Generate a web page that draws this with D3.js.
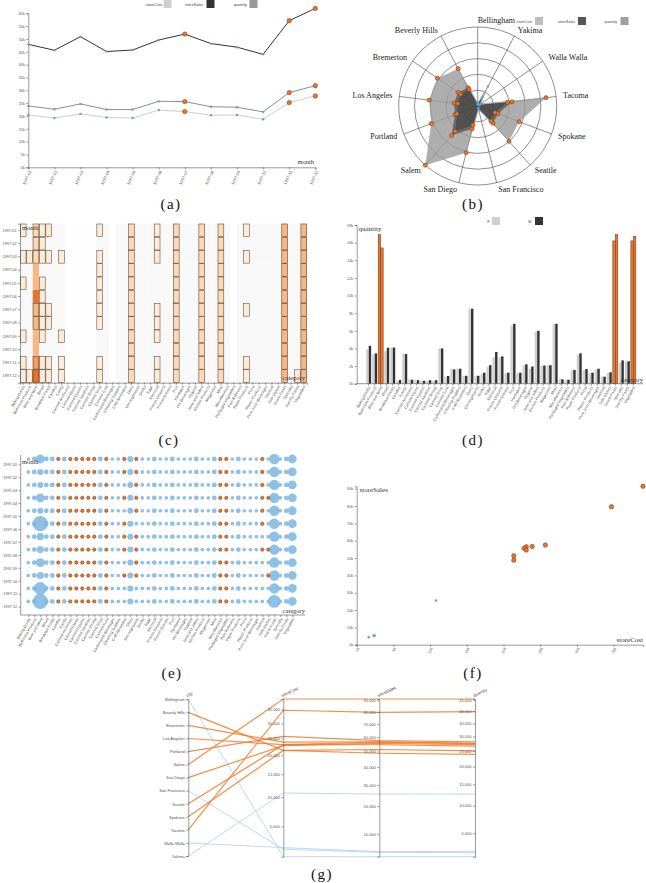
<!DOCTYPE html>
<html><head><meta charset="utf-8">
<script src="https://cdn.jsdelivr.net/npm/d3@7"></script>
<style>
body{margin:0;background:#fff;}
svg{display:block;}
</style></head><body>
<svg id="c" width="646" height="883"></svg>
<script>
// ---------------- DATA ----------------
const months = ["1997-01","1997-02","1997-03","1997-04","1997-05","1997-06","1997-07","1997-08","1997-09","1997-10","1997-11","1997-12"];
const monthStoreCost  = [20400,19200,20800,19400,19200,22300,21700,20300,20400,18700,25200,27800];
const monthStoreSales = [47900,45600,50900,45100,45700,49600,51900,48200,46800,44000,57100,61900];
const monthQuantity   = [23900,22600,24700,22500,22500,25700,25600,23600,23400,21600,29100,31800];
const highlightMonths = ["1997-07","1997-11","1997-12"];
const measures = ["storeCost","storeSales","quantity"];

const cities = ["Bellingham","Beverly Hills","Bremerton","Los Angeles","Portland","Salem","San Diego","San Francisco","Seattle","Spokane","Tacoma","Walla Walla","Yakima"];
const cityStoreCost  = [1640,21400,23900,23100,25700,39000,22800,2300,23100,21400,34700,2450,10800];
const cityStoreSales = [4300,48800,56700,56500,57500,91400,55600,5200,54600,51300,79600,5350,25500];
const cityQuantity   = [2100,23800,27600,27500,28100,45400,27100,2500,26600,25000,39900,2650,12600];
const highlightCities = ["Beverly Hills","Bremerton","Los Angeles","Portland","Salem","San Diego","Seattle","Spokane","Tacoma"];

const categories = ["Baking Goods","Bathroom Products","Beer and Wine","Bread","Breakfast Foods","Candles","Candy","Canned Anchovies","Canned Clams","Canned Oysters","Canned Sardines","Canned Shrimp","Canned Soup","Canned Tuna","Carbonated Beverages","Cleaning Supplies","Cold Remedies","Dairy","Decongestants","Drinks","Eggs","Electrical","Frozen Desserts","Frozen Entrees","Fruit","Hardware","Hot Beverages","Hygiene","Jams and Jellies","Kitchen Products","Magazines","Meat","Miscellaneous","Packaged Vegetables","Pain Relievers","Paper Products","Pizza","Plastic Products","Pure Juice Beverages","Seafood","Side Dishes","Snack Foods","Specialty","Starchy Foods","Vegetables"];
const genders = ["F","M"];
const quantityF = [3900,3360,16900,3700,4100,300,3400,500,400,300,350,350,4000,800,1700,1700,900,8500,900,1100,1900,3000,3000,1200,6600,1200,2100,1700,5900,2050,2100,6800,500,400,1600,3300,1550,1200,1600,800,1200,16200,2400,2500,16200];
const quantityM = [4300,3440,15400,4080,4100,420,3360,450,400,330,400,400,4000,870,1620,1700,900,8500,900,1250,2100,3600,3100,1250,6800,1250,2200,1950,6000,2050,2100,6800,500,450,1550,3450,1660,1250,1700,800,1300,16900,2650,2550,16700];
const highlightCategories = ["Beer and Wine","Snack Foods","Vegetables"];

// heatmap: one string per category, one char per month. '0' none, '1'-'5' level (outlined), 'a'-'e' level (no outline)
const heatCells = [
"101010001011","001000000001","222cce33cc45","111011111011","101000110011",
"000000000000","001000001011","000000000000","000000000000","000000000000",
"000000000000","000000000000","101111110011","000000000000","000000000000",
"000000000000","000000000000","222222222222","000000000000","000000000000",
"000000000000","111000111011","000000000000","000000000000","222222222222",
"000000000000","000000000000","000000000000","222222222222","000000000000",
"000000000000","222222222222","000000000000","000000000000","000000000000",
"101000100011","000000000000","000000000000","000000000000","000000000000",
"000000000000","333333333333","000000000000","000000000001","333333333333"];
const heatShade = [1,1,0,1,1,1,1,0,0,0,0,0,1,1,0,1,1,0,1,1,1,1,1,1,0,1,1,1,0,1,1,0,1,0,1,1,1,1,1,1,1,0,1,1,0];

// bubble matrix: one string per month, one size digit per category
const bubbleSize = [
"23633 23222 22322 22422 23223 22232 23222 32222 27236",
"23433 23222 22322 22422 23223 22232 23222 32222 27236",
"23433 23222 22322 22422 23223 22232 23222 32222 27236",
"23633 23222 22322 22422 23223 22232 23222 32222 27236",
"23433 23222 22322 22422 23223 22232 23222 32222 27236",
"23933 23222 22322 22422 23223 22232 23222 32222 27236",
"23533 23222 22322 22422 23223 22232 23222 32222 27236",
"23533 23222 22322 22422 23223 22232 23222 32222 27236",
"23633 23222 22322 22422 23223 22232 23222 32222 27236",
"23533 23222 22322 22422 23223 22232 23222 32222 27236",
"23833 23222 22322 22422 23223 22232 23222 32222 27236",
"23933 23222 22322 22422 23223 22232 23222 32222 28236"];
// highlighted (orange) category numbers (1-based) per month
const bubbleOrange = [
[6,8,9,10,11,12,14,17,19,33,34,40],
[6,8,9,10,11,12,14,17,19,33,34,40],
[6,8,9,10,11,12,14,19,33,34,40],
[6,8,9,10,11,12,14,17,19,33,34,40,41],
[6,8,9,10,11,12,14,19,33,34,40],
[6,8,9,10,11,12,14,17,33,34,40],
[6,8,9,10,11,12,14,17,19,33,34],
[6,8,9,10,11,12,14,17,19,33,34,40,41],
[6,8,9,10,11,12,14,19,33,34],
[6,8,9,10,11,12,14,17,19,33,34,41],
[6,8,9,10,11,12,14,33,34],
[6,8,9,10,11,12,14,33,34]];

const captions = ["(a)","(b)","(c)","(d)","(e)","(f)","(g)"];

// ---------------- STYLE ----------------
const SANS = '"Liberation Sans", Arial, sans-serif';
const SERIF = '"Liberation Serif", "Times New Roman", serif';
const ORANGE = "#e8762d", ORANGE_STROKE = "#6b3210", BLUE = "#5ea4d6", BUBBLE_BLUE = "#7cb6e0";
const fmtK = d => (d/1000) + "k";
const svg = d3.select("#c");

function styleAxis(g, fs){
  g.selectAll("text").attr("font-size", fs).attr("font-family", SANS).attr("fill", "#555");
  g.selectAll("line,path").attr("stroke", "#555").attr("stroke-width", 0.6);
}
function rot(g, a){
  g.selectAll(".tick text").attr("transform", `rotate(${a})`).attr("text-anchor","end")
   .attr("dx","-0.6em").attr("dy","0.15em");
}
function label(x, y, t, fs, anchor, fam){
  svg.append("text").attr("x",x).attr("y",y).attr("font-size",fs).attr("font-family",fam||SERIF)
    .attr("fill","#333").attr("text-anchor",anchor||"start").text(t);
}

// ---------------- (a) line chart ----------------
{
  const g = svg.append("g");
  const x = d3.scalePoint(months, [28.3, 315.3]);
  const y = d3.scaleLinear([0, 60000], [167.3, 13.3]);
  g.append("g").attr("transform","translate(28.3,0)")
    .call(d3.axisLeft(y).ticks(12).tickFormat(fmtK).tickSize(2).tickPadding(1.5)).call(styleAxis, 3.8);
  g.append("g").attr("transform","translate(0,167.3)")
    .call(d3.axisBottom(x).tickSize(2).tickPadding(1.5)).call(styleAxis, 4.2).call(rot, -65);
  const series = [
    {name:"storeCost", vals: monthStoreCost, color:"#cfcfcf"},
    {name:"quantity", vals: monthQuantity, color:"#8e8e8e"},
    {name:"storeSales", vals: monthStoreSales, color:"#333"}];
  const line = d3.line().x((d,i)=>x(months[i])).y(d=>y(d));
  series.forEach(s=>{
    g.append("path").attr("d", line(s.vals)).attr("fill","none").attr("stroke",s.color).attr("stroke-width",1);
    g.selectAll(null).data(s.vals).enter().append("circle")
      .attr("cx",(d,i)=>x(months[i])).attr("cy",d=>y(d))
      .attr("r",(d,i)=>highlightMonths.includes(months[i])?2.2:1.2)
      .attr("fill",(d,i)=>highlightMonths.includes(months[i])?ORANGE:BLUE)
      .attr("stroke",(d,i)=>highlightMonths.includes(months[i])?ORANGE_STROKE:"none")
      .attr("stroke-width",0.5);
  });
  label(314, 164, "month", 6.5, "end");
  const lg = [{t:"storeCost",c:"#d0d0d0",tx:162,sx:163.5},{t:"storeSales",c:"#333",tx:203,sx:206.5},{t:"quantity",c:"#9a9a9a",tx:247,sx:249.5}];
  lg.forEach(l=>{
    svg.append("text").attr("x",l.tx).attr("y",6).attr("font-size",3.8).attr("font-family",SANS).attr("fill","#444").attr("text-anchor","end").text(l.t);
    svg.append("rect").attr("x",l.sx).attr("y",0).attr("width",8).attr("height",8).attr("fill",l.c);
  });
}

// ---------------- (b) radar ----------------
{
  const cx = 477.7, cy = 106, R = 79;
  const g = svg.append("g").attr("transform",`translate(${cx},${cy})`);
  const r = d3.scaleLinear([0, d3.max(cityStoreSales)], [0, R]);
  const n = cities.length;
  const ang = i => -i * 2 * Math.PI / n;
  [1,2,3,4,5].forEach(k => g.append("circle").attr("r", R*k/5).attr("fill","none").attr("stroke","#444").attr("stroke-width",0.6));
  cities.forEach((c,i)=>{
    const a = ang(i);
    g.append("line").attr("x1",0).attr("y1",0).attr("x2",R*Math.sin(a)).attr("y2",-R*Math.cos(a))
      .attr("stroke","#444").attr("stroke-width",0.6);
    const lx = 86*Math.sin(a), ly = -86*Math.cos(a);
    g.append("text").attr("x",lx).attr("y",ly).attr("dy","0.35em")
      .attr("text-anchor", lx < -1 ? "end" : "start")
      .attr("font-size",8).attr("font-family",SERIF).attr("fill","#222").text(c);
  });
  const radial = d3.lineRadial().angle((d,i)=>ang(i)).radius(d=>r(d)).curve(d3.curveLinearClosed);
  const rs = [
    {vals: cityStoreSales, fill:"#9a9a9a", op:0.8},
    {vals: cityQuantity, fill:"#333", op:0.55},
    {vals: cityStoreCost, fill:"#222", op:0.35}];
  rs.forEach(s => g.append("path").attr("d", radial(s.vals)).attr("fill", s.fill).attr("fill-opacity", s.op).attr("stroke","none"));
  rs.forEach(s => {
    g.selectAll(null).data(s.vals).enter().append("circle")
      .attr("cx",(d,i)=>r(d)*Math.sin(ang(i))).attr("cy",(d,i)=>-r(d)*Math.cos(ang(i)))
      .attr("r",(d,i)=>highlightCities.includes(cities[i])?2.1:1.2)
      .attr("fill",(d,i)=>highlightCities.includes(cities[i])?ORANGE:BLUE)
      .attr("stroke",(d,i)=>highlightCities.includes(cities[i])?ORANGE_STROKE:"none").attr("stroke-width",0.5);
  });
  const lg = [{t:"storeCost",c:"#bdbdbd",tx:532,sx:535},{t:"storeSales",c:"#555",tx:575,sx:578},{t:"quantity",c:"#a0a0a0",tx:617,sx:620.5}];
  lg.forEach(l=>{
    svg.append("text").attr("x",l.tx).attr("y",22.5).attr("font-size",3.6).attr("font-family",SANS).attr("fill","#444").attr("text-anchor","end").text(l.t);
    svg.append("rect").attr("x",l.sx).attr("y",17).attr("width",8).attr("height",8).attr("fill",l.c);
  });
}

// ---------------- (c) heatmap ----------------
{
  const g = svg.append("g");
  const x = d3.scaleBand(categories, [20, 307]);
  const y = d3.scaleBand(months, [223.7, 382.7]);
  const levelColor = d3.scaleLinear([1,2,3,4,5], ["#fdebd9","#fbd8b6","#f6b886","#f29d5c","#e8742c"]);
  const cells = [];
  categories.forEach((c,ci)=>months.forEach((m,mi)=>{
    const ch = heatCells[ci][mi];
    let lvl = 0, outline = false;
    if (ch >= "1" && ch <= "5") { lvl = +ch; outline = true; }
    else if (ch >= "a" && ch <= "e") { lvl = ch.charCodeAt(0) - 96; }
    cells.push({c, m, lvl, outline, shade: heatShade[ci]});
  }));
  g.selectAll("rect.bg").data(cells).enter().append("rect")
    .attr("x",d=>x(d.c)).attr("y",d=>y(d.m)).attr("width",x.bandwidth()).attr("height",y.bandwidth())
    .attr("fill",d=>d.lvl ? levelColor(d.lvl) : (d.shade ? "#f8f8f8" : "#fefefe"));
  g.selectAll("rect.ol").data(cells.filter(d=>d.outline)).enter().append("rect")
    .attr("x",d=>x(d.c)+0.3).attr("y",d=>y(d.m)+0.3).attr("width",x.bandwidth()-0.6).attr("height",y.bandwidth()-0.6)
    .attr("fill","none").attr("stroke","#3e2e20").attr("stroke-width",0.55).attr("stroke-opacity",0.85);
  g.append("g").attr("transform","translate(20,0)").call(d3.axisLeft(y).tickSize(2).tickPadding(1.5)).call(styleAxis, 3.8);
  g.append("g").attr("transform","translate(0,382.7)").call(d3.axisBottom(x).tickSize(2).tickPadding(1)).call(styleAxis, 3.8).call(rot, -60);
  label(22, 229.5, "month", 6.5);
  label(305, 380, "category", 6.5, "end");
}

// ---------------- (d) grouped bars ----------------
{
  const g = svg.append("g");
  const x0 = d3.scaleBand(categories, [366, 636]).paddingInner(0.12);
  const x1 = d3.scaleBand(genders, [0, x0.bandwidth()]).padding(0.06);
  const y = d3.scaleLinear([0, 18000], [383.7, 225]);
  const data = categories.map((c,i)=>({c, F: quantityF[i], M: quantityM[i], hl: highlightCategories.includes(c)}));
  const grp = g.selectAll("g.cat").data(data).enter().append("g").attr("transform",d=>`translate(${x0(d.c)},0)`);
  grp.selectAll("rect").data(d=>genders.map(k=>({k, v:d[k], hl:d.hl}))).enter().append("rect")
    .attr("x",d=>x1(d.k)).attr("width",x1.bandwidth()).attr("y",d=>y(d.v)).attr("height",d=>383.7-y(d.v))
    .attr("fill",d=>d.hl?ORANGE:(d.k==="F"?"#cfcfcf":"#333"))
    .attr("stroke",d=>d.hl?ORANGE_STROKE:"none").attr("stroke-width",0.5);
  g.append("g").attr("transform","translate(356.7,0)").call(d3.axisLeft(y).ticks(9).tickFormat(fmtK).tickSize(2).tickPadding(1.5)).call(styleAxis, 3.8);
  const xa = g.append("g").attr("transform","translate(0,383.7)").call(d3.axisBottom(x0).tickSize(2).tickPadding(1)).call(styleAxis, 3.8).call(rot, -60);
  xa.select(".domain").remove();
  g.append("line").attr("x1",356.7).attr("x2",643).attr("y1",383.7).attr("y2",383.7).attr("stroke","#555").attr("stroke-width",0.6);
  label(358.5, 231, "quantity", 7);
  label(643, 382, "category", 6.5, "end");
  const lg = [{t:"F",c:"#cfcfcf",tx:489.5,sx:492},{t:"M",c:"#333",tx:531.5,sx:535}];
  lg.forEach(l=>{
    svg.append("text").attr("x",l.tx).attr("y",222.5).attr("font-size",3.8).attr("font-family",SANS).attr("fill","#444").attr("text-anchor","end").text(l.t);
    svg.append("rect").attr("x",l.sx).attr("y",217).attr("width",8).attr("height",8).attr("fill",l.c);
  });
}

// ---------------- (e) bubble matrix ----------------
{
  const g = svg.append("g");
  const x = d3.scalePoint(categories, [28.3, 292.3]);
  const y = d3.scalePoint(months, [464.3, 606.7]);
  const rad = d3.scaleLinear([1,2,3,4,5,6,7,8,9], [1.4,1.85,2.4,3.0,3.6,4.4,5.2,6.4,7.6]);
  const pts = [];
  months.forEach((m,mi)=>{
    const s = bubbleSize[mi].replace(/ /g,"");
    categories.forEach((c,ci)=>pts.push({m, c, v:+s[ci], hl: bubbleOrange[mi].includes(ci+1)}));
  });
  const off = y.step()*0.41;
  g.selectAll("circle.b").data(pts.filter(d=>!d.hl)).enter().append("circle")
    .attr("cx",d=>x(d.c)).attr("cy",d=>y(d.m)-off).attr("r",d=>rad(d.v))
    .attr("fill",BUBBLE_BLUE).attr("fill-opacity",0.85);
  g.selectAll("circle.o").data(pts.filter(d=>d.hl)).enter().append("circle")
    .attr("cx",d=>x(d.c)).attr("cy",d=>y(d.m)-off).attr("r",1.7)
    .attr("fill",ORANGE).attr("stroke",ORANGE_STROKE).attr("stroke-width",0.5);
  const ya = g.append("g").attr("transform","translate(20.7,0)").call(d3.axisLeft(y).tickSize(2).tickPadding(1.5)).call(styleAxis, 3.8);
  ya.select(".domain").remove();
  g.append("line").attr("x1",20.7).attr("x2",20.7).attr("y1",455).attr("y2",615).attr("stroke","#555").attr("stroke-width",0.6);
  const xa = g.append("g").attr("transform","translate(0,615)").call(d3.axisBottom(x).tickSize(2).tickPadding(1)).call(styleAxis, 3.8).call(rot, -60);
  xa.select(".domain").remove();
  g.append("line").attr("x1",20.7).attr("x2",305).attr("y1",615).attr("y2",615).attr("stroke","#555").attr("stroke-width",0.6);
  label(22, 463.5, "month", 6.5);
  label(305, 612.5, "category", 6.5, "end");
}

// ---------------- (f) scatter ----------------
{
  const g = svg.append("g");
  const x = d3.scaleLinear([0, d3.max(cityStoreCost)], [356.7, 643]);
  const y = d3.scaleLinear([0, d3.max(cityStoreSales)], [644.7, 486.3]);
  g.append("g").attr("transform","translate(356.7,0)").call(d3.axisLeft(y).ticks(10).tickFormat(fmtK).tickSize(2).tickPadding(1.5)).call(styleAxis, 3.8);
  g.append("g").attr("transform","translate(0,644.7)").call(d3.axisBottom(x).ticks(8).tickFormat(fmtK).tickSize(2).tickPadding(1)).call(styleAxis, 3.8).call(rot, -65);
  const pts = cities.map((c,i)=>({c, cost:cityStoreCost[i], sales:cityStoreSales[i], hl: highlightCities.includes(c)}));
  g.selectAll("circle").data(pts).enter().append("circle")
    .attr("cx",d=>x(d.cost)).attr("cy",d=>y(d.sales)).attr("r",d=>d.hl?2.2:1.3)
    .attr("fill",d=>d.hl?ORANGE:BLUE).attr("stroke",d=>d.hl?ORANGE_STROKE:"none").attr("stroke-width",0.5);
  label(359.5, 492, "storeSales", 7);
  label(643, 642, "storeCost", 7, "end");
}

// ---------------- (g) parallel coordinates ----------------
{
  const g = svg.append("g");
  const top = 699, bot = 856.7;
  const dims = [
    {name:"city", x:188.3, scale: d3.scalePoint(cities, [699.3, 856]), vals: cities},
    {name:"storeCost", x:283.3, scale: d3.scaleSqrt(d3.extent(cityStoreCost), [bot, top]), vals: cityStoreCost},
    {name:"storeSales", x:379.3, scale: d3.scaleSqrt(d3.extent(cityStoreSales), [bot, top]), vals: cityStoreSales},
    {name:"quantity", x:475, scale: d3.scaleSqrt(d3.extent(cityQuantity), [bot, top]), vals: cityQuantity}];
  const rows = cities.map((c,i)=>({c, hl: highlightCities.includes(c), pts: dims.map(d=>[d.x, d.scale(d.vals[i])])}));
  const line = d3.line();
  g.selectAll("path.b").data(rows.filter(r=>!r.hl)).enter().append("path")
    .attr("d",r=>line(r.pts)).attr("fill","none").attr("stroke","#a9d0ec").attr("stroke-width",0.8);
  g.selectAll("path.o").data(rows.filter(r=>r.hl)).enter().append("path")
    .attr("d",r=>line(r.pts)).attr("fill","none").attr("stroke","#f07b2c").attr("stroke-width",1.2).attr("stroke-opacity",0.85);
  dims.forEach((d,k)=>{
    const ax = d3.axisLeft(d.scale).tickSize(2).tickPadding(1.5);
    if (k>0) ax.ticks(10).tickFormat(d3.format(","));
    g.append("g").attr("transform",`translate(${d.x},0)`).call(ax).call(styleAxis, 4);
    g.append("text").attr("transform",`translate(${d.x-1},${top-2}) rotate(-25)`).attr("font-size",4.2)
      .attr("font-family",SANS).attr("fill","#444").text(d.name);
  });
}

// ---------------- captions ----------------
const capPos = [[171,209],[473,209],[169,445],[473,445],[172,678],[473,678],[322,879]];
captions.forEach((t,i)=>svg.append("text").attr("x",capPos[i][0]).attr("y",capPos[i][1])
  .attr("text-anchor","middle").attr("font-size",15).attr("font-family",SERIF).attr("letter-spacing",1.5).attr("fill","#111").text(t));
</script>
</body></html>
